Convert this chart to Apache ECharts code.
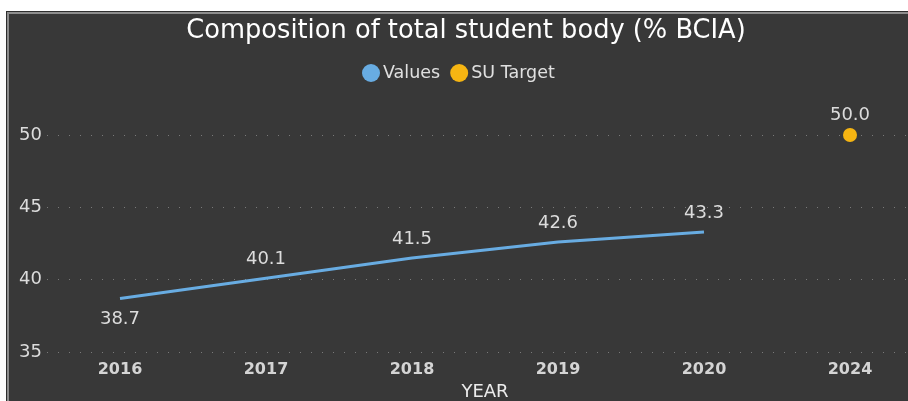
<!DOCTYPE html>
<html>
<head>
<meta charset="utf-8">
<script src="https://cdn.jsdelivr.net/npm/echarts@6/dist/echarts.min.js"></script>
<style>
    html, body { margin: 0; padding: 0; background: #fff; overflow: hidden; }
    #frame {
        position: absolute; left: 6px; top: 11px; width: 920px; height: 410px;
        border: 1px solid #2e2e2e; box-shadow: inset 0 0 0 2px #8e8e8e; background: #383838;
    }
    #main { position: absolute; left: 0; top: 0; width: 908px; height: 401px; }
</style>
</head>
<body>
<div id="frame"></div>
<div id="main"></div>
<script>
// chart data
const years = ['2016', '2017', '2018', '2019', '2020', '2024'];
const values = [38.7, 40.1, 41.5, 42.6, 43.3, null];
const target = [null, null, null, null, null, 50.0];

const label_color = '#dcdcdc';
const font = 'DejaVu Sans';

// first point has its label below the line
const values_data = values.map((v, i) => i === 0
    ? { value: v, label: { position: 'bottom', distance: 12 } }
    : v);

const my_chart = echarts.init(document.getElementById('main'), null, { renderer: 'canvas' });
const option = {
    backgroundColor: 'transparent',
    title: {
        text: 'Composition of total student body (% BCIA)',
        left: 461,
        textAlign: 'center',
        top: 13,
        textStyle: { color: '#ffffff', fontSize: 25.7, fontWeight: 'normal', fontFamily: font }
    },
    legend: {
        top: 59,
        left: 357,
        icon: 'circle',
        itemWidth: 18,
        itemHeight: 18,
        itemGap: 10,
        textStyle: { color: '#e0e0e0', fontSize: 17.5, fontFamily: font, padding: [0, 0, 0, -2] },
        data: ['Values', 'SU Target']
    },
    grid: { left: 47, width: 876, top: 135, bottom: 49, outerBoundsMode: 'none' },
    xAxis: {
        type: 'category',
        data: years,
        name: 'YEAR',
        nameLocation: 'middle',
        nameGap: 31,
        nameTextStyle: { color: '#ececec', fontSize: 18, fontFamily: font },
        axisLine: { show: false },
        axisTick: { show: false },
        axisLabel: { color: '#d4d4d4', fontSize: 16, fontWeight: 'bold', margin: 10, fontFamily: font }
    },
    yAxis: {
        type: 'value',
        min: 35,
        max: 50,
        interval: 5,
        axisLabel: { color: label_color, fontSize: 18, margin: 28, align: 'left', fontFamily: font },
        splitLine: { lineStyle: { type: [1, 10], color: '#7a7a7a', width: 1.2 } }
    },
    series: [
        {
            name: 'Values',
            type: 'line',
            data: values_data,
            color: '#68ace2',
            symbol: 'circle',
            symbolSize: 0.1,
            lineStyle: { width: 3 },
            label: {
                show: true,
                position: 'top',
                distance: 10,
                color: label_color,
                fontSize: 18,
                fontFamily: font,
                formatter: (p) => p.value.toFixed(1)
            }
        },
        {
            name: 'SU Target',
            type: 'line',
            data: target,
            color: '#f6b512',
            symbol: 'circle',
            symbolSize: 14,
            lineStyle: { width: 0 },
            label: {
                show: true,
                position: 'top',
                distance: 4,
                color: label_color,
                fontSize: 18,
                fontFamily: font,
                formatter: (p) => p.value.toFixed(1)
            }
        }
    ]
};
my_chart.setOption(option);
</script>
</body>
</html>
